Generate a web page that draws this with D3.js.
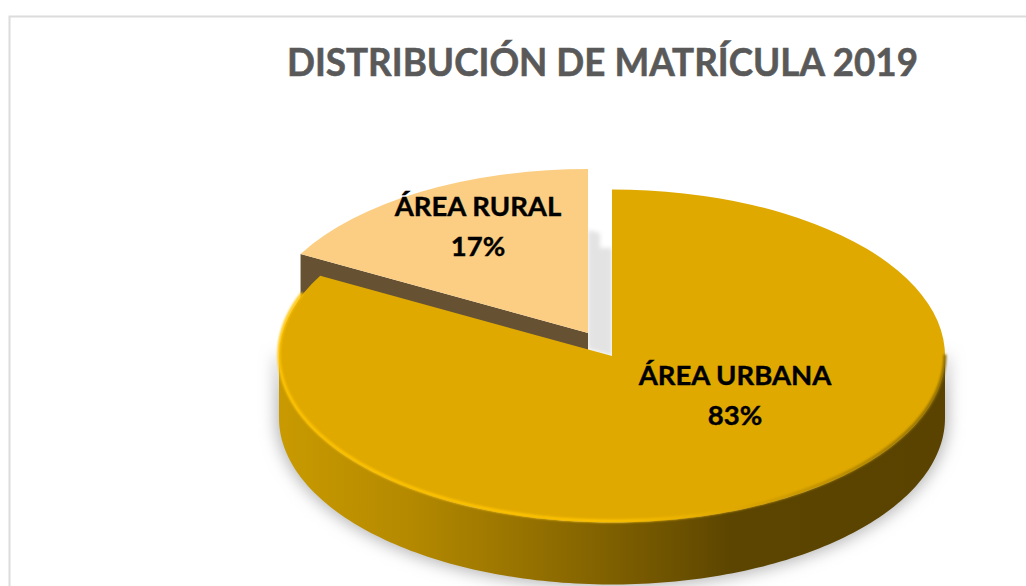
<!DOCTYPE html>
<html>
<head>
<meta charset="utf-8">
<script src="https://cdn.jsdelivr.net/npm/d3@7"></script>
<style>
  html, body { margin: 0; background: #fff; }
  svg { display: block; }
  text { font-family: Lato, "Open Sans", sans-serif; font-weight: 700; text-anchor: middle; }
</style>
</head>
<body>
<div id="chart"></div>
<script>
const chartTitle = "DISTRIBUCIÓN DE MATRÍCULA 2019";
const categories = ["ÁREA URBANA", "ÁREA RURAL"];
const shares = [83, 17];

const width = 1026, height = 586;
const tilt = 0.5, depth = 62;
const radii = [333, 328];
const centers = [{x: 612, y: 356}, {x: 588, y: 333}];
const topColors = ["#e0a900", "#fbce83"];
const labelAt = [{x: 735, y: 385}, {x: 478, y: 216}];

const svg = d3.select("#chart").append("svg")
    .attr("width", width)
    .attr("height", height);

const defs = svg.append("defs");

const blur = (id, s) => defs.append("filter")
    .attr("id", id)
    .attr("x", "-20%").attr("y", "-20%")
    .attr("width", "140%").attr("height", "140%")
  .append("feGaussianBlur")
    .attr("stdDeviation", s);
blur("soft", 8);
blur("rim", 1.2);
blur("gap", 2);

const wallGrad = defs.append("linearGradient")
    .attr("id", "wall")
    .attr("gradientUnits", "userSpaceOnUse")
    .attr("x1", 278).attr("x2", 945).attr("y1", 0).attr("y2", 0);
wallGrad.selectAll("stop")
  .data([[0, "#c99a00"], [0.2, "#b48900"], [0.35, "#9a7500"], [0.5, "#7f6000"], [0.68, "#5c4500"], [1, "#5a4300"]])
  .join("stop")
    .attr("offset", d => d[0])
    .attr("stop-color", d => d[1]);

const rimGrad = defs.append("linearGradient")
    .attr("id", "rimGrad")
    .attr("gradientUnits", "userSpaceOnUse")
    .attr("x1", 278).attr("x2", 945).attr("y1", 0).attr("y2", 0);
rimGrad.selectAll("stop")
  .data([[0, "#ffc400"], [0.5, "#ffc400"], [0.68, "#e0a900"], [1, "#8a6a00"]])
  .join("stop")
    .attr("offset", d => d[0])
    .attr("stop-color", d => d[1]);

// frame of the chart area, open to the right and bottom
svg.append("path")
    .attr("d", `M9.5,${height}V16.5H${width}`)
    .attr("fill", "none")
    .attr("stroke", "#dcdcdc")
    .attr("stroke-width", 2);

const pie = d3.pie().sort(null).value(d => d)(shares);
const arc = d3.arc().innerRadius(0).outerRadius(d => radii[d.index]);

// angles run clockwise from 12 o'clock, same as d3.arc
const rimPoint = (c, r, a, dz) => [c.x + r * Math.sin(a), c.y - r * tilt * Math.cos(a) + dz];
const rimLine = d3.line();

function wallPath(c, r, a0, a1) {
  const steps = d3.range(a0, a1, 0.02).concat(a1);
  const upper = steps.map(a => rimPoint(c, r, a, 0));
  const lower = steps.slice().reverse().map(a => rimPoint(c, r, a, depth));
  return rimLine(upper.concat(lower)) + "Z";
}

const T = Math.PI * 2;
const mainWall = wallPath(centers[0], radii[0], T / 4, T * 3 / 4);

// soft shadow under the disc
svg.append("path")
    .attr("d", mainWall)
    .attr("fill", "#b5b5b5")
    .attr("stroke", "#b5b5b5")
    .attr("stroke-width", 6)
    .attr("filter", "url(#soft)");

// shadow showing through the gap between the two slices
svg.append("path")
    .attr("d", d3.line()([
      [centers[1].x, centers[1].y - 103],
      [centers[1].x + 12, centers[1].y - 100],
      [centers[1].x + 12, centers[1].y - 85],
      [centers[0].x, centers[1].y - 85],
      [centers[0].x, centers[0].y],
      [centers[1].x, centers[1].y + 16]
    ]) + "Z")
    .attr("fill", "#e3e3e3")
    .attr("filter", "url(#gap)");

// rural slice: cut face first, then outer wall and top
const rural = pie[1], urban = pie[0];
const apex = centers[1];
const tip = rimPoint(apex, radii[1], rural.startAngle, 0);
svg.append("path")
    .attr("d", d3.line()([
      [apex.x, apex.y], tip, [tip[0], tip[1] + depth], [apex.x, apex.y + depth]
    ]) + "Z")
    .attr("fill", "#665233");

svg.selectAll("path.top")
  .data([rural, urban])
  .join("path")
    .attr("class", "top")
    .attr("d", arc)
    .attr("transform", d => `translate(${centers[d.index].x},${centers[d.index].y}) scale(1,${tilt})`)
    .attr("fill", d => topColors[d.index]);

// outer wall of the big slice, drawn after so it sits under the rim highlight
svg.append("path")
    .attr("d", mainWall)
    .attr("fill", "url(#wall)");

// bevel highlight along the front edge of the top face, up to the cut on the left
const rimArc = d3.range(T / 4, urban.endAngle - 0.12, 0.02).map(a => rimPoint(centers[0], radii[0], a, -1.5));
svg.append("path")
    .attr("d", rimLine(rimArc))
    .attr("fill", "none")
    .attr("stroke", "url(#rimGrad)")
    .attr("stroke-width", 3)
    .attr("filter", "url(#rim)");

svg.append("text")
    .attr("x", 602.5)
    .attr("y", 76)
    .attr("font-size", 39)
    .attr("textLength", 631)
    .attr("lengthAdjust", "spacingAndGlyphs")
    .attr("fill", "#595959")
    .attr("stroke", "#595959")
    .attr("stroke-width", 0.6)
    .text(chartTitle);

const labels = svg.selectAll("g.label")
  .data(pie)
  .join("g")
    .attr("class", "label")
    .attr("transform", d => `translate(${labelAt[d.index].x},${labelAt[d.index].y})`)
    .attr("fill", "#000")
    .attr("stroke", "#000")
    .attr("stroke-width", 0.4)
    .attr("font-size", 27.5);
labels.append("text").text(d => categories[d.index]);
labels.append("text").attr("y", 40).text(d => `${d.value}%`);
</script>
</body>
</html>
